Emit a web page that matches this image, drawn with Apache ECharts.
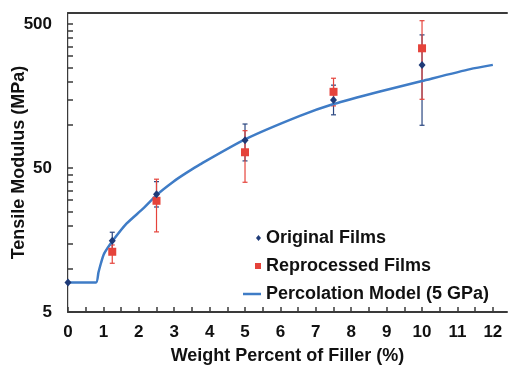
<!DOCTYPE html>
<html>
<head>
    <meta charset="utf-8" />
    <title></title>
    <script type="text/javascript" src="https://cdn.jsdelivr.net/npm/echarts@6/dist/echarts.min.js"></script>
    <style>
        html, body { margin: 0; padding: 0; background: #fff; }
        #con1 { width: 510px; height: 365px; }
    </style>
</head>
<body>
    <div id="con1"></div>
    <script type="text/javascript">
        // filler content (wt %) of the samples
        var fillerX = [1.25, 2.5, 5, 7.5, 10];

        // Original Films: value, lower and upper end of error bar (MPa)
        var origX = [0, 1.25, 2.5, 5, 7.5, 10];
        var origVal = [8.0, 15.6, 32.8, 78, 148, 260];
        var origLow = [13.5, 26.8, 56, 117, 99];
        var origHigh = [17.9, 40.2, 101, 188, 420];

        // Reprocessed Films
        var repVal = [13.1, 29.6, 64.3, 169, 339];
        var repLow = [10.9, 18.0, 39.8, 135, 150];
        var repHigh = [14.6, 41.8, 90.8, 210, 527];

        // Percolation Model (5 GPa) curve
        var modelX = [0, 0.79, 0.86, 0.93, 1.02, 1.263, 1.658, 2.127, 2.523, 2.975, 3.353, 3.73, 5.0, 6.55, 7.5, 8.81, 10, 11.36, 12];
        var modelVal = [8.0, 8.0, 9.4, 10.9, 12.7, 15.6, 20.6, 26.2, 32.8, 40.2, 46.4, 53, 79, 115, 139, 170, 201, 243, 260];

        // tick positions
        var xLabels = [0, 1, 2, 3, 4, 5, 6, 7, 8, 9, 10, 11, 12];
        var xTicks = [0, 0.5, 1, 1.5, 2, 2.5, 3, 3.5, 4, 4.5, 5, 5.5, 6, 6.5, 7, 7.5, 8, 8.5, 9, 9.5, 10, 10.5, 11, 11.5, 12];
        var yLabels = [5, 50, 500];
        var yTicks = [5, 10, 15, 20, 25, 30, 35, 40, 45, 50, 100, 150, 200, 250, 300, 350, 400, 450, 500];

        var blue = '#1f3b78';
        var red = '#e5433b';
        var lineBlue = '#3f7cc6';
        var axisColor = '#3a3a3a';
        var fontFam = '"Liberation Sans", Arial, sans-serif';

        function zip2(a, b) {
            var out = [];
            for (var i = 0; i < a.length; i++) out.push([a[i], b[i]]);
            return out;
        }
        function zip3(a, b, c) {
            var out = [];
            for (var i = 0; i < a.length; i++) out.push([a[i], b[i], c[i]]);
            return out;
        }
        function errorBar(color) {
            return function (params, api) {
                var lo = api.coord([api.value(0), api.value(1)]);
                var hi = api.coord([api.value(0), api.value(2)]);
                var cw = 2.5;
                var st = { stroke: color, lineWidth: 1.2 };
                return {
                    type: 'group',
                    children: [
                        { type: 'line', shape: { x1: lo[0], y1: lo[1], x2: hi[0], y2: hi[1] }, style: st },
                        { type: 'line', shape: { x1: lo[0] - cw, y1: lo[1], x2: lo[0] + cw, y2: lo[1] }, style: st },
                        { type: 'line', shape: { x1: hi[0] - cw, y1: hi[1], x2: hi[0] + cw, y2: hi[1] }, style: st }
                    ]
                };
            };
        }
        // one legend per entry so each icon keeps its own size
        function legendItem(name, icon, w, h, left, top) {
            return {
                orient: 'vertical',
                left: left,
                top: top,
                itemWidth: w,
                itemHeight: h,
                textStyle: { fontSize: 18, fontWeight: 'bold', color: '#111', fontFamily: fontFam },
                data: [{ name: name, icon: icon }]
            };
        }

        var myChart1 = echarts.init(document.getElementById('con1'));
        var option1 = {
            backgroundColor: '#ffffff',
            animation: false,
            textStyle: { fontFamily: fontFam },
            grid: { left: 68, top: 13, right: 3, bottom: 53, containLabel: false, outerBoundsMode: 'none' },
            legend: [
                legendItem('Original Films', 'diamond', 5, 6, 251, 224),
                legendItem('Reprocessed Films', 'rect', 6, 6, 250, 252),
                legendItem('Percolation Model (5 GPa)', 'path://M0,0H18V2.5H0Z', 18, 3, 238, 280)
            ],
            xAxis: [{
                type: 'value',
                min: 0,
                max: 12.4,
                name: 'Weight Percent of Filler (%)',
                nameLocation: 'middle',
                nameGap: 35,
                nameMoveOverlap: false,
                nameTextStyle: { fontSize: 18, fontWeight: 'bold', color: '#111', fontFamily: fontFam },
                splitLine: { show: false },
                axisLine: { lineStyle: { color: axisColor, width: 2 } },
                axisTick: { inside: true, length: 5, customValues: xTicks, lineStyle: { color: axisColor, width: 1.5 } },
                axisLabel: { customValues: xLabels, margin: 12, fontSize: 17, fontWeight: 'bold', color: '#111', fontFamily: fontFam }
            }, {
                type: 'value',
                position: 'top',
                min: 0,
                max: 12.4,
                splitLine: { show: false },
                axisLine: { lineStyle: { color: axisColor, width: 2 } },
                axisTick: { show: false },
                axisLabel: { show: false }
            }],
            yAxis: [{
                type: 'log',
                logBase: 10,
                min: 5,
                max: 596,
                name: 'Tensile Modulus (MPa)',
                nameLocation: 'middle',
                nameGap: 40,
                nameMoveOverlap: false,
                nameTextStyle: { fontSize: 18, fontWeight: 'bold', color: '#111', fontFamily: fontFam },
                splitLine: { show: false },
                axisLine: { lineStyle: { color: axisColor, width: 2 } },
                axisTick: { inside: true, length: 5, customValues: yTicks, lineStyle: { color: axisColor, width: 1.5 } },
                axisLabel: { customValues: yLabels, margin: 16, fontSize: 17, fontWeight: 'bold', color: '#111', fontFamily: fontFam }
            }, {
                type: 'log',
                position: 'right',
                min: 5,
                max: 596,
                splitLine: { show: false },
                axisLine: { show: true, lineStyle: { color: '#d4d4d4', width: 1 } },
                axisTick: { show: false },
                axisLabel: { show: false }
            }],
            series: [{
                name: 'origErr',
                type: 'custom',
                renderItem: errorBar('#2a4680'),
                encode: { x: 0, y: [1, 2] },
                data: zip3(fillerX, origLow, origHigh),
                z: 1
            }, {
                name: 'repErr',
                type: 'custom',
                renderItem: errorBar(red),
                encode: { x: 0, y: [1, 2] },
                data: zip3(fillerX, repLow, repHigh),
                z: 2
            }, {
                name: 'Percolation Model (5 GPa)',
                type: 'line',
                symbol: 'none',
                showSymbol: false,
                smooth: 0.2,
                color: lineBlue,
                lineStyle: { color: lineBlue, width: 2.5 },
                data: zip2(modelX, modelVal),
                z: 3
            }, {
                name: 'Reprocessed Films',
                type: 'scatter',
                symbol: 'rect',
                symbolSize: 8,
                itemStyle: { color: red, opacity: 1 },
                data: zip2(fillerX, repVal),
                z: 4
            }, {
                name: 'Original Films',
                type: 'scatter',
                symbol: 'diamond',
                symbolSize: [7, 8],
                itemStyle: { color: blue, opacity: 1 },
                data: zip2(origX, origVal),
                z: 5
            }]
        };
        option1 && myChart1.setOption(option1);
    </script>
</body>
</html>
